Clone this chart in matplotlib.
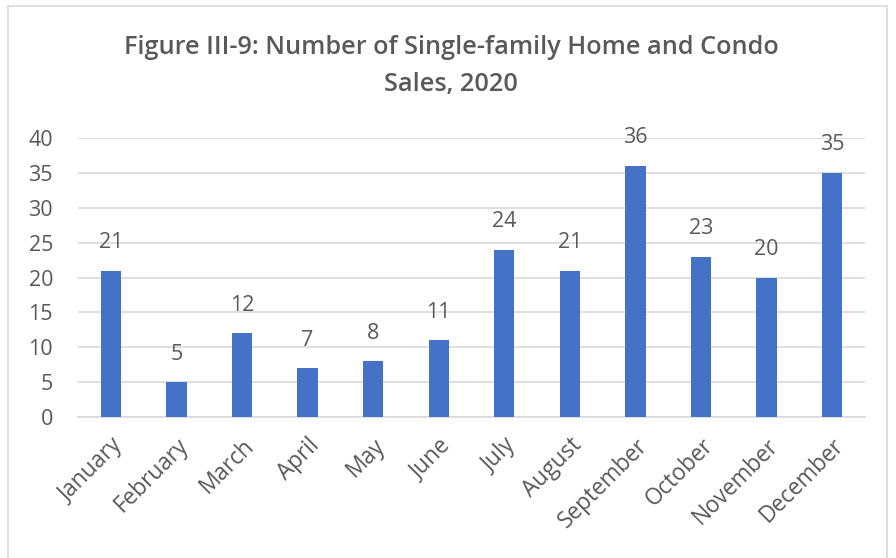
import matplotlib
matplotlib.use("Agg")
import matplotlib.pyplot as plt
from matplotlib.patches import Rectangle

months = ["January", "February", "March", "April", "May", "June", "July",
          "August", "September", "October", "November", "December"]
sales = [21, 5, 12, 7, 8, 11, 24, 21, 36, 23, 20, 35]
yticks = [0, 5, 10, 15, 20, 25, 30, 35, 40]
title_lines = ["Figure III-9: Number of Single-family Home and Condo", "Sales, 2020"]

plt.rcParams['font.family'] = ['Open Sans', 'DejaVu Sans']
txt = "#595959"
fs = 15.5

fig = plt.figure(figsize=(8.96, 5.58), dpi=100)
fig.patches.append(Rectangle((8/896, -0.05), (887-8)/896, 1 - 6/558 + 0.05,
                             transform=fig.transFigure, fill=False,
                             edgecolor="#d9d9d9", linewidth=1.2))
ax = fig.add_axes([78/896, 1-417/558, (865-78)/896, (417-138)/558])

x = list(range(len(months)))
ax.bar(x, sales, width=0.31, color="#4472C4", zorder=3)
for xi, v in zip(x, sales):
    ax.annotate(str(v), (xi, v), xytext=(0, 28), textcoords="offset pixels",
                ha="center", va="center", fontsize=fs, color=txt)

ax.set_xlim(-0.5, 11.5)
ax.set_ylim(0, 40)
ax.set_yticks(yticks)
ax.set_yticklabels([str(t) for t in yticks], fontsize=fs, color=txt)
ax.set_xticks(x)
ax.set_xticklabels(months, rotation=45, ha="right", rotation_mode="anchor",
                   fontsize=16.3, color=txt)
ax.tick_params(axis="both", length=0)
ax.tick_params(axis="y", pad=18)
ax.tick_params(axis="x", pad=12)
ax.grid(axis="y", color="#d9d9d9", linewidth=1.2, zorder=0)
for s in ["top", "right", "left"]:
    ax.spines[s].set_visible(False)
ax.spines["bottom"].set_color("#d9d9d9")
ax.spines["bottom"].set_linewidth(1.2)

for yy, line in zip([47, 85], title_lines):
    fig.text(451/896, 1 - yy/558, line, ha="center", va="center", fontsize=18.2,
             fontweight="semibold", color=txt)

fig.savefig("out.png", dpi=100, facecolor="white")
